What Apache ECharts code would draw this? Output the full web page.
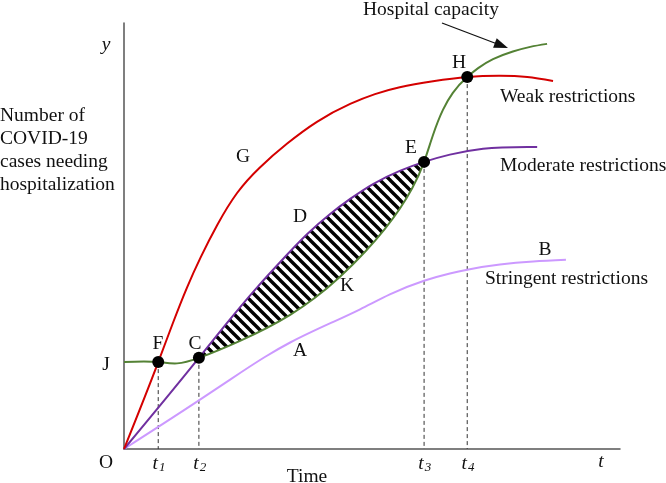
<!DOCTYPE html>
<html>
<head>
<meta charset="utf-8">
<script src="https://cdn.jsdelivr.net/npm/echarts@6/dist/echarts.min.js"></script>
<style>
  html, body { margin: 0; padding: 0; background: #fff; }
  #chart { width: 666px; height: 483px; }
</style>
</head>
<body>
<div id="chart"></div>
<script>
const weak = [[0, 0], [6.9, 20.4], [9.9, 29.7], [12.7, 37.9], [15.5, 45.1], [18.8, 52.6], [22.8, 60.1], [27.4, 66.1], [32.9, 71.7], [38.9, 76.8], [45.6, 81.0], [50.6, 83.3], [55.6, 84.9], [62.3, 86.3], [69.2, 87.3], [75.8, 87.6], [81.3, 87.3], [86.5, 86.4]];
const moderate = [[0, 0], [15.1, 21.4], [20.0, 28.5], [26.8, 37.9], [31.5, 43.9], [36.9, 50.4], [41.5, 55.1], [45.6, 58.7], [50.2, 62.2], [55.6, 65.3], [60.5, 67.4], [65.7, 69.1], [72.4, 70.5], [83.3, 70.9]];
const capacity = [[0, 20.4], [6.9, 20.4], [10.7, 20.1], [15.1, 21.4], [23.4, 25.4], [33.5, 31.5], [38.5, 35.5], [43.5, 40.4], [48.6, 46.3], [52.6, 51.7], [55.6, 56.4], [58.1, 61.2], [60.5, 67.4], [62.3, 73.7], [64.3, 79.6], [66.3, 83.6], [69.2, 87.3], [71.4, 89.4], [74.4, 91.5], [78.4, 93.3], [81.9, 94.4], [85.3, 95.1]];
const stringent = [[0, 0], [15.1, 11.4], [21.4, 16.3], [28.4, 21.6], [33.5, 25.0], [42.1, 29.8], [47.6, 32.8], [53.6, 36.3], [60.5, 39.5], [65.7, 41.2], [69.2, 42.1], [75.8, 43.3], [82.5, 44.0], [89.1, 44.4]];

// F, C, E, H
const keyPoints = [[6.9, 20.4], [15.1, 21.4], [60.5, 67.4], [69.2, 87.3]];
const markTimes = [6.9, 15.1, 60.5, 69.2];
const markSubs = ['1', '2', '3', '4'];

const serif = '"Liberation Serif", "Times New Roman", serif';
const font = (size, italic) => (italic ? 'italic ' : '') + size + 'px ' + serif;

// natural cubic spline y(x) through pixel points, returned as bezier segments
function splineSegs(pts) {
  const n = pts.length;
  const h = [];
  const dl = [];
  for (let i = 0; i < n - 1; i++) {
    h.push(pts[i + 1][0] - pts[i][0]);
    dl.push((pts[i + 1][1] - pts[i][1]) / h[i]);
  }
  const M = new Array(n).fill(0);
  if (n > 2) {
    const a = [], b = [], c = [], r = [];
    for (let i = 1; i < n - 1; i++) {
      a.push(h[i - 1]);
      b.push(2 * (h[i - 1] + h[i]));
      c.push(h[i]);
      r.push(6 * (dl[i] - dl[i - 1]));
    }
    const m = b.length;
    for (let i = 1; i < m; i++) {
      const w = a[i] / b[i - 1];
      b[i] -= w * c[i - 1];
      r[i] -= w * r[i - 1];
    }
    const sol = new Array(m);
    sol[m - 1] = r[m - 1] / b[m - 1];
    for (let i = m - 2; i >= 0; i--) sol[i] = (r[i] - c[i] * sol[i + 1]) / b[i];
    for (let i = 0; i < m; i++) M[i + 1] = sol[i];
  }
  const slope = [];
  for (let i = 0; i < n - 1; i++) slope.push(dl[i] - h[i] * (2 * M[i] + M[i + 1]) / 6);
  slope.push(dl[n - 2] + h[n - 2] * (M[n - 2] + 2 * M[n - 1]) / 6);
  const segs = [];
  for (let i = 0; i < n - 1; i++) {
    const p = pts[i];
    const q = pts[i + 1];
    const k = h[i] / 3;
    segs.push([p, [p[0] + k, p[1] + slope[i] * k], [q[0] - k, q[1] - slope[i + 1] * k], q]);
  }
  return segs;
}

function pathData(segs, move) {
  let d = move ? 'M' + segs[0][0][0] + ',' + segs[0][0][1] : '';
  segs.forEach((s) => {
    d += 'C' + s[1][0] + ',' + s[1][1] + ' ' + s[2][0] + ',' + s[2][1] + ' ' + s[3][0] + ',' + s[3][1];
  });
  return d;
}

const reverseSegs = (segs) => segs.slice().reverse().map((s) => [s[3], s[2], s[1], s[0]]);

function stripes() {
  const s = 10;
  const c = document.createElement('canvas');
  c.width = s;
  c.height = s;
  const ctx = c.getContext('2d');
  ctx.strokeStyle = '#000';
  ctx.lineWidth = 3.4;
  for (let k = -1; k <= 1; k++) {
    ctx.beginPath();
    ctx.moveTo(-s, -s + k * s);
    ctx.lineTo(2 * s, 2 * s + k * s);
    ctx.stroke();
  }
  return c;
}
const hatch = { image: stripes(), repeat: 'repeat' };

const curve = (data, color) => ({
  type: 'custom',
  data,
  z: 3,
  silent: true,
  renderItem(params, api) {
    if (params.dataIndex !== 0) return;
    const pts = data.map((p) => api.coord(p));
    return {
      type: 'path',
      shape: { pathData: pathData(splineSegs(pts), true) },
      style: { fill: null, stroke: color, lineWidth: 2 },
    };
  },
});

const txt = (text, x, y, opts = {}) => ({
  type: 'text',
  x,
  y,
  silent: true,
  style: {
    text,
    fill: '#111',
    font: font(opts.size || 19.5, opts.italic),
    align: opts.align || 'center',
    verticalAlign: opts.va || 'middle',
    lineHeight: opts.lineHeight,
  },
});

const chart = echarts.init(document.getElementById('chart'));

chart.setOption({
  animation: false,
  backgroundColor: '#fff',
  grid: { left: 124, top: 23, width: 496, height: 426 },
  xAxis: {
    type: 'value',
    min: 0,
    max: 100,
    axisLine: { show: true, lineStyle: { color: '#555', width: 1.5 } },
    axisTick: { show: false },
    axisLabel: { show: false },
    splitLine: { show: false },
  },
  yAxis: {
    type: 'value',
    min: 0,
    max: 100,
    axisLine: { show: true, lineStyle: { color: '#555', width: 1.5 } },
    axisTick: { show: false },
    axisLabel: { show: false },
    splitLine: { show: false },
  },
  series: [
    {
      // shaded gap between moderate restrictions (top) and capacity (bottom), C to E
      type: 'custom',
      data: [moderate[1]],
      z: 2,
      silent: true,
      renderItem(params, api) {
        const top = splineSegs(moderate.map((p) => api.coord(p))).slice(1, 10);
        const bottom = splineSegs(capacity.map((p) => api.coord(p))).slice(3, 12);
        const d = pathData(top, true) + pathData(reverseSegs(bottom), false) + 'Z';
        return { type: 'path', shape: { pathData: d }, style: { fill: hatch, stroke: null } };
      },
    },
    curve(stringent, '#cc99ff'),
    curve(moderate, '#7030a0'),
    curve(weak, '#d40000'),
    curve(capacity, '#548235'),
    {
      type: 'custom',
      data: keyPoints,
      z: 1,
      silent: true,
      renderItem(params, api) {
        const top = api.coord([api.value(0), api.value(1)]);
        const base = api.coord([api.value(0), 0]);
        return {
          type: 'line',
          shape: { x1: top[0], y1: top[1], x2: base[0], y2: base[1] },
          style: { stroke: '#333', lineWidth: 1, lineDash: [4, 3] },
        };
      },
    },
    {
      type: 'scatter',
      data: keyPoints,
      symbolSize: 12,
      itemStyle: { color: '#000', opacity: 1 },
      z: 5,
      silent: true,
    },
    {
      type: 'custom',
      data: markTimes.map((t) => [t, 0]),
      silent: true,
      renderItem(params, api) {
        const p = api.coord([api.value(0), 0]);
        return {
          type: 'group',
          children: [
            txt('t', p[0] - 3, p[1] + 15, { italic: true }),
            txt(markSubs[params.dataIndex], p[0] + 4, p[1] + 19, { italic: true, size: 13 }),
          ],
        };
      },
    },
  ],
  graphic: [
    txt('Number of\nCOVID-19\ncases needing\nhospitalization', 0, 150, { align: 'left', lineHeight: 23 }),
    txt('y', 106, 45, { italic: true }),
    txt('J', 106, 365),
    txt('O', 106, 463),
    txt('t', 601, 462, { italic: true }),
    txt('Time', 307, 477),
    txt('G', 243, 157),
    txt('D', 300, 217),
    txt('K', 347, 286),
    txt('A', 300, 351),
    txt('B', 545, 250),
    txt('F', 158, 344),
    txt('C', 195, 344),
    txt('E', 411, 148),
    txt('H', 459, 63),
    txt('Hospital capacity', 363, 10, { align: 'left' }),
    txt('Weak restrictions', 500, 97, { align: 'left' }),
    txt('Moderate restrictions', 500, 166, { align: 'left' }),
    txt('Stringent restrictions', 485, 279, { align: 'left' }),
    {
      type: 'line',
      silent: true,
      shape: { x1: 442, y1: 23, x2: 496, y2: 43.5 },
      style: { stroke: '#111', lineWidth: 1.3 },
    },
    {
      type: 'polygon',
      silent: true,
      shape: { points: [[508, 48], [496.7, 38.3], [493.1, 47.7]] },
      style: { fill: '#111' },
    },
  ],
});
</script>
</body>
</html>
